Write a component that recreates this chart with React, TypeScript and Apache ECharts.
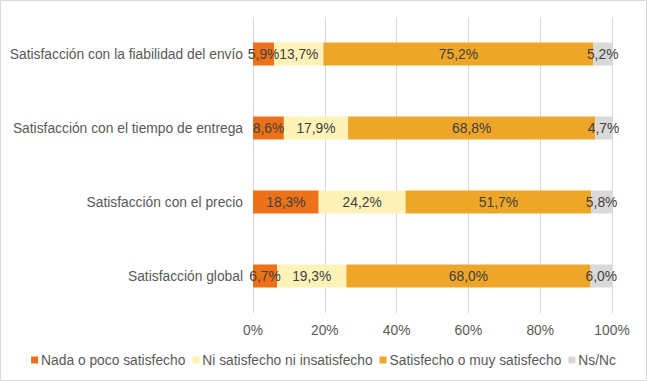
import React, { useEffect, useRef } from "react";
import * as echarts from "echarts";

const categories = [
  "Satisfacción con la fiabilidad del envío",
  "Satisfacción con el tiempo de entrega",
  "Satisfacción con el precio",
  "Satisfacción global",
];
const seriesNames = [
  "Nada o poco satisfecho",
  "Ni satisfecho ni insatisfecho",
  "Satisfecho o muy satisfecho",
  "Ns/Nc",
];
const nada = [5.9, 8.6, 18.3, 6.7];
const ni = [13.7, 17.9, 24.2, 19.3];
const satisfecho = [75.2, 68.8, 51.7, 68.0];
const nsnc = [5.2, 4.7, 5.8, 6.0];
const colors = ["#EC7118", "#FFF2B9", "#EEA628", "#D9D9D9"];
const FONT = "'Liberation Sans', Arial, sans-serif";
const FS = 13.8;

export default function App() {
  const ref = useRef<HTMLDivElement>(null);
  useEffect(() => {
    document.body.style.margin = "0";
    const chart = echarts.init(ref.current!, null, { renderer: "svg" });
    const values = [nada, ni, satisfecho, nsnc];
    chart.setOption({
      animation: false,
      textStyle: { fontFamily: FONT },
      graphic: [
        {
          type: "rect",
          shape: { x: 0.5, y: 0.5, width: 646, height: 380 },
          style: { fill: "none", stroke: "#D9D9D9", lineWidth: 1 },
          silent: true,
        },
      ],
      grid: { left: 253, right: 35, top: 17, bottom: 68 },
      legend: {
        bottom: 9,
        left: "center",
        icon: "rect",
        itemWidth: 7,
        itemHeight: 7,
        itemGap: 7,
        textStyle: { color: "#595959", fontSize: FS, fontFamily: FONT, padding: [0, 0, 0, -2] },
        data: seriesNames,
      },
      xAxis: {
        type: "value",
        min: 0,
        max: 100,
        interval: 20,
        axisLine: { show: false },
        axisTick: { show: false },
        splitLine: { lineStyle: { color: "#D9D9D9", width: 1 } },
        axisLabel: {
          color: "#595959",
          fontSize: FS,
          fontFamily: FONT,
          margin: 10,
          formatter: (v: number) => v + "%",
        },
      },
      yAxis: {
        type: "category",
        data: categories,
        inverse: true,
        axisLine: { show: false },
        axisTick: { show: false },
        axisLabel: { color: "#595959", fontSize: FS, fontFamily: FONT, margin: 10 },
      },
      series: seriesNames.map((name, i) => ({
        name,
        type: "bar",
        stack: "total",
        barWidth: 23,
        data: values[i],
        itemStyle: { color: colors[i] },
        label: {
          show: true,
          position: "inside",
          color: "#404040",
          fontSize: FS,
          fontFamily: FONT,
          formatter: (p: any) => p.value.toFixed(1).replace(".", ",") + "%",
        },
      })),
    });
    return () => chart.dispose();
  }, []);
  return <div ref={ref} style={{ width: 647, height: 381 }} />;
}
